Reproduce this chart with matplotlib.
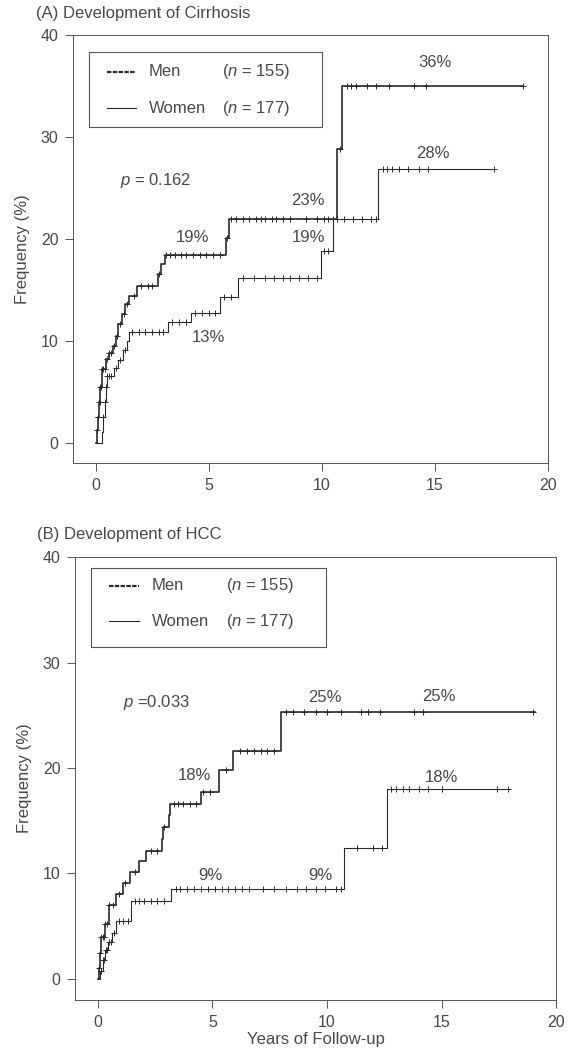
import matplotlib.pyplot as plt
import numpy as np
from matplotlib.patches import Rectangle

plt.rcParams['font.family'] = ['Liberation Sans', 'DejaVu Sans']
plt.rcParams['mathtext.fontset'] = 'custom'
plt.rcParams['mathtext.it'] = 'Liberation Sans:italic'
plt.rcParams['mathtext.rm'] = 'Liberation Sans'

INK = '#2a2a2a'
TXT = '#484848'

# (A) cirrhosis - step times (years) and cumulative frequency (%)
a_men_t = [0, 0.05, 0.1, 0.15, 0.2, 0.3, 0.45, 0.6, 0.75, 0.9, 1.0, 1.15, 1.3, 1.5,
           1.85, 2.75, 2.9, 3.05, 5.75, 5.9, 10.7, 10.9]
a_men_v = [0, 1.2, 2.5, 4.0, 5.5, 7.2, 8.2, 8.8, 9.5, 10.5, 11.6, 12.6, 13.6, 14.4,
           15.4, 16.5, 17.5, 18.4, 20.1, 21.9, 28.8, 35.0]
a_men_end = 18.9
a_men_cens = [0.05, 0.1, 0.12, 0.15, 0.18, 0.2, 0.25, 0.3, 0.35, 0.4, 0.5, 0.6, 0.7, 0.8,
              0.95, 1.1, 1.25, 1.4, 1.7, 2.0, 2.3, 2.5, 2.8, 3.1, 3.3, 3.5, 3.8, 4.0, 4.3,
              4.6, 4.9, 5.2, 5.5, 5.8, 6.0, 6.2, 6.5, 6.8, 7.1, 7.3, 7.5, 7.8, 8.0, 8.3,
              8.6, 9.3, 9.8, 10.1, 10.3, 10.5, 10.8, 11.1, 11.3, 11.5, 12.0, 12.4, 13.0,
              14.1, 14.6, 18.9]

a_wom_t = [0, 0.3, 0.35, 0.4, 0.45, 0.5, 0.8, 1.0, 1.2, 1.4, 1.5, 3.2, 4.2, 5.5, 6.3,
           9.95, 10.5, 12.5]
a_wom_v = [0, 1.0, 2.5, 4.0, 5.5, 6.5, 7.3, 8.1, 9.1, 10.0, 10.9, 11.8, 12.7, 14.3,
           16.2, 18.8, 21.9, 26.8]
a_wom_end = 17.6
a_wom_cens = [0.35, 0.4, 0.45, 0.5, 0.6, 0.7, 0.9, 1.1, 1.3, 1.6, 1.9, 2.2, 2.5, 2.8,
              3.0, 3.4, 3.7, 4.0, 4.4, 4.7, 5.0, 5.3, 5.7, 6.0, 6.5, 7.0, 7.5, 7.9, 8.3,
              8.6, 9.0, 9.4, 9.8, 10.1, 10.3, 10.7, 11.0, 11.4, 11.8, 12.2, 12.4, 12.7,
              12.9, 13.1, 13.4, 13.8, 14.3, 14.7, 17.6]

# (B) HCC
b_men_t = [0, 0.05, 0.1, 0.15, 0.3, 0.5, 0.8, 1.1, 1.4, 1.8, 2.1, 2.8, 2.85, 3.1,
           3.15, 4.5, 5.3, 5.9, 8.0]
b_men_v = [0, 1.0, 2.5, 4.0, 5.2, 7.0, 8.1, 9.1, 10.1, 11.2, 12.1, 13.3, 14.4, 15.5,
           16.6, 17.7, 19.8, 21.6, 25.3]
b_men_end = 19.1
b_men_cens = [0.05, 0.1, 0.15, 0.2, 0.25, 0.3, 0.4, 0.5, 0.65, 0.9, 1.2, 1.6, 2.3, 2.6,
              2.9, 3.3, 3.5, 3.7, 4.0, 4.3, 4.6, 4.9, 5.6, 6.2, 6.5, 6.8, 7.1, 7.4, 7.7,
              8.2, 8.5, 9.0, 9.5, 10.0, 10.6, 11.5, 11.8, 12.3, 13.8, 14.2, 19.0]

b_wom_t = [0, 0.1, 0.2, 0.3, 0.45, 0.6, 0.8, 1.45, 3.2, 10.75, 12.6]
b_wom_v = [0, 0.8, 1.8, 2.7, 3.5, 4.4, 5.5, 7.4, 8.5, 12.4, 18.0]
b_wom_end = 17.95
b_wom_cens = [0.15, 0.2, 0.25, 0.35, 0.4, 0.5, 0.55, 0.7, 0.9, 1.1, 1.3, 1.6, 1.8, 2.0,
              2.3, 2.6, 2.9, 3.4, 3.6, 3.9, 4.2, 4.5, 4.8, 5.1, 5.4, 5.7, 6.0, 6.3, 6.6,
              7.2, 7.7, 8.2, 8.7, 9.1, 9.5, 9.9, 10.4, 10.6, 11.3, 12.0, 12.4, 12.8, 13.0,
              13.3, 13.6, 14.0, 14.4, 15.0, 17.4, 17.9]

# percent annotations: (x, y, text)
a_notes = [(15.0, 37.3, '36%'), (14.9, 28.4, '28%'), (9.4, 23.8, '23%'),
           (9.4, 20.1, '19%'), (4.3, 20.1, '19%'), (5.0, 10.3, '13%')]
b_notes = [(9.9, 26.7, '25%'), (14.9, 26.8, '25%'), (4.2, 19.3, '18%'),
           (15.0, 19.1, '18%'), (4.9, 9.8, '9%'), (9.7, 9.8, '9%')]


def km(ax, t, v, end, cens, lw):
    t = np.array(t + [end])
    v = np.array(v + [v[-1]])
    ax.step(t, v, where='post', color=INK, lw=lw)
    c = np.array(cens)
    cy = v[np.searchsorted(t, c, side='right') - 1]
    ax.plot(c, cy, '+', color=INK, ms=4, mew=0.7)


def panel(ax, men, wom, notes, pval, title, leg_box, leg_y):
    km(ax, *men, lw=1.2)
    km(ax, *wom, lw=0.8)
    ax.set_xlim(-1, 20)
    ax.set_ylim(-2, 40)
    ax.set_xticks([0, 5, 10, 15, 20])
    ax.set_yticks([0, 10, 20, 30, 40])
    ax.tick_params(direction='out', length=6, width=0.7, colors='#555555',
                   labelcolor=TXT, labelsize=11.5, pad=4.5)
    ax.tick_params(axis='x', pad=5)
    for s in ax.spines.values():
        s.set_linewidth(0.7)
        s.set_color('#555555')
    ax.set_ylabel('Frequency (%)', color=TXT, fontsize=12)
    ax.yaxis.set_label_coords(-0.09, 0.5)
    for x, y, s in notes:
        ax.text(x, y, s, ha='center', va='center', fontsize=12, color=TXT)
    ax.text(1.1, pval[0], r'$p$' + pval[1], ha='left', va='center',
            fontsize=12, color=TXT)
    ax.text(-0.078, 1.05, title, transform=ax.transAxes, ha='left', va='center',
            fontsize=12, color=TXT)
    x0, y0, x1, y1 = leg_box
    ax.add_patch(Rectangle((x0, y0), x1 - x0, y1 - y0, fill=False,
                           ec='#555555', lw=0.8))
    ax.plot([0.5, 1.8], [leg_y[0]] * 2, color=INK, lw=1.6, ls=(0, (2, 0.6)))
    ax.plot([0.5, 1.8], [leg_y[1]] * 2, color=INK, lw=0.8)
    ax.text(2.35, leg_y[0], 'Men', va='center', fontsize=12, color=TXT)
    ax.text(2.35, leg_y[1], 'Women', va='center', fontsize=12, color=TXT)
    ax.text(5.6, leg_y[0], r'($n$ = 155)', va='center', fontsize=12, color=TXT)
    ax.text(5.6, leg_y[1], r'($n$ = 177)', va='center', fontsize=12, color=TXT)


fig = plt.figure(figsize=(5.7, 10.53), dpi=100)
ax1 = fig.add_axes([0.128, 0.5603, 0.833, 0.4065])
ax2 = fig.add_axes([0.1316, 0.0503, 0.844, 0.4207])

panel(ax1, (a_men_t, a_men_v, a_men_end, a_men_cens),
      (a_wom_t, a_wom_v, a_wom_end, a_wom_cens), a_notes, (25.7, ' = 0.162'),
      '(A) Development of Cirrhosis', (-0.3, 31.0, 10.0, 38.3), (36.4, 32.8))
panel(ax2, (b_men_t, b_men_v, b_men_end, b_men_cens),
      (b_wom_t, b_wom_v, b_wom_end, b_wom_cens), b_notes, (26.2, ' =0.033'),
      '(B) Development of HCC', (-0.3, 31.5, 9.95, 39.0), (37.3, 33.9))
ax2.set_xlabel('Years of Follow-up', color=TXT, fontsize=12, labelpad=1)

fig.savefig('out.png', dpi=100)
